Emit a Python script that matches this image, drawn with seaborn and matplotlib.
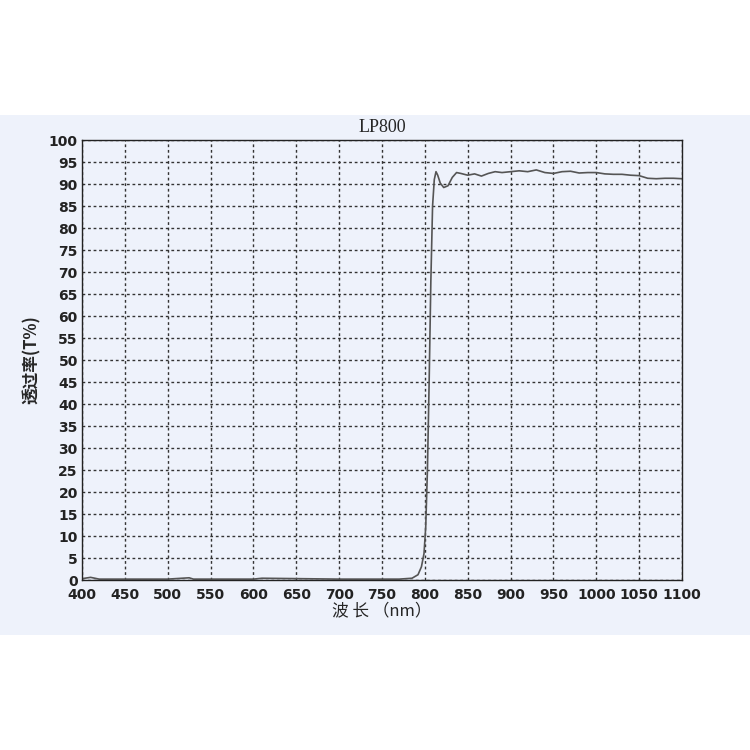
import matplotlib
matplotlib.use("Agg")
import matplotlib.pyplot as plt
import seaborn as sns
from matplotlib.patches import Rectangle

wavelength = [400, 410, 420, 500, 525, 530, 600, 610, 700, 770, 785, 792, 796, 799, 801, 803, 805, 807,
              809, 811, 813, 815, 818, 822, 827, 832, 837, 842, 850, 858, 866, 874, 882, 890, 900,
              910, 920, 930, 940, 950, 960, 970, 980, 990, 1000, 1010, 1020, 1030, 1040, 1050,
              1060, 1070, 1080, 1090, 1100]
transmission = [0.3, 0.6, 0.2, 0.2, 0.5, 0.2, 0.2, 0.4, 0.2, 0.2, 0.4, 1.2, 3, 6, 12, 25, 45, 68,
                85, 91, 92.8, 92.0, 90.2, 89.2, 89.6, 91.5, 92.6, 92.4, 92.0, 92.3, 91.8, 92.4, 92.8, 92.6, 92.8,
                93.0, 92.8, 93.2, 92.6, 92.4, 92.8, 92.9, 92.5, 92.6, 92.6, 92.3, 92.2, 92.2, 92.0, 91.9,
                91.3, 91.2, 91.3, 91.3, 91.2]

xticks = list(range(400, 1101, 50))
yticks = list(range(0, 101, 5))
bg = "#eef2fb"

sns.set_style("white")
plt.rcParams['font.family'] = ['DejaVu Sans', 'Noto Sans CJK SC']

fig = plt.figure(figsize=(7.5, 7.5), dpi=100)
# light blue band behind the chart
fig.patches.append(Rectangle((0, 115/750), 1, (635-115)/750, transform=fig.transFigure,
                             facecolor=bg, edgecolor="none", zorder=-10))
ax = fig.add_axes([82/750, 1-580/750, 600/750, 440/750])
ax.set_facecolor(bg)

sns.lineplot(x=wavelength, y=transmission, ax=ax, color="#555555", linewidth=1.2)

ax.set_xlim(400, 1100)
ax.set_ylim(0, 100)
ax.set_xticks(xticks)
ax.set_yticks(yticks)
ax.set_xticklabels([str(t) for t in xticks], fontsize=10, fontweight='bold', color="#222222")
ax.set_yticklabels([str(t) for t in yticks], fontsize=10, fontweight='bold', color="#222222")
ax.tick_params(axis='x', length=0, pad=6)
ax.tick_params(axis='y', length=0, pad=3)
ax.grid(True, linestyle=(0, (2, 2)), color="#333333", linewidth=1)
for s in ax.spines.values():
    s.set_color("#222222")
    s.set_linewidth(1)

ax.set_title("LP800", fontsize=13, family="Liberation Serif", pad=6)
ax.set_xlabel("波 长 （nm）", fontsize=12, family=['Noto Sans CJK SC', 'DejaVu Sans'], labelpad=0)
ax.set_ylabel("透过率(T%)", fontsize=12, family=['Noto Sans CJK SC', 'DejaVu Sans'],
              fontweight='bold', labelpad=6)

fig.savefig("out.png", dpi=100)
